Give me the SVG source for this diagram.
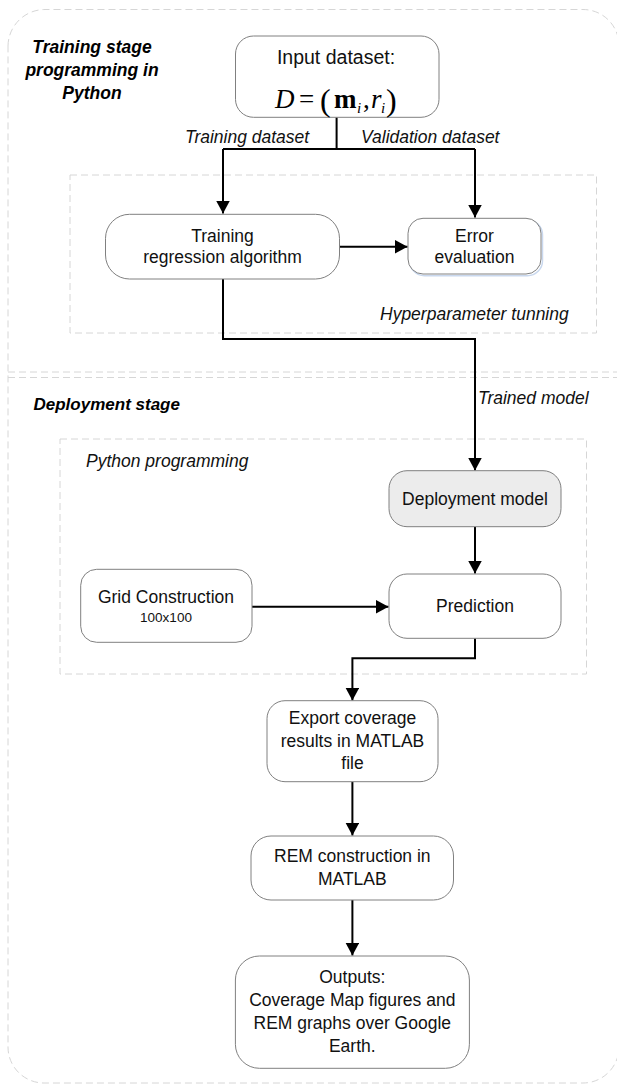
<svg xmlns="http://www.w3.org/2000/svg" width="617" height="1087" viewBox="0 0 617 1087">
<style>
.frame{fill:none;stroke:#d6d6d6;stroke-width:1;stroke-dasharray:7 4}
.box{fill:#ffffff;stroke:#808080;stroke-width:1}
.t{font-family:"Liberation Sans",Arial,sans-serif;font-size:17.5px;fill:#111;text-anchor:middle}
.lbl{font-family:"Liberation Sans",Arial,sans-serif;font-size:17.5px;font-style:italic;fill:#111}
.ttl{font-family:"Liberation Sans",Arial,sans-serif;font-size:17px;font-style:italic;font-weight:bold;fill:#000}
.m{font-family:"Liberation Serif","Times New Roman",serif;fill:#000}
.conn{fill:none;stroke:#000;stroke-width:2}
</style>
<defs>
<marker id="arr" markerUnits="userSpaceOnUse" markerWidth="14" markerHeight="14" viewBox="0 0 14 14" refX="13" refY="7" orient="auto">
<path d="M0,0 L13,7 L0,14 Z" fill="#000"/>
</marker>
</defs>
<rect width="617" height="1087" fill="#ffffff"/>
<g id="frames">
<path class="frame" d="M8,46 A37,37 0 0 1 45,9.5 L583,9.5 A36,36 0 0 1 619,45.5 L619,1047 A36,36 0 0 1 583,1083 L44,1083 A36,36 0 0 1 8,1047 Z"/>
<line class="frame" x1="8" y1="372" x2="617" y2="372"/>
<line class="frame" x1="8" y1="377.5" x2="617" y2="377.5"/>
<rect class="frame" x="70" y="175" width="526.5" height="158"/>
<rect class="frame" x="60" y="439" width="526.5" height="235"/>
</g>
<g id="titles">
<text class="ttl" text-anchor="middle" style="font-size:17.5px"><tspan x="92" y="53">Training stage</tspan><tspan x="92" y="76">programming in</tspan><tspan x="92" y="99">Python</tspan></text>
<text class="ttl" x="33.5" y="410">Deployment stage</text>
<text class="lbl" x="380" y="320">Hyperparameter tunning</text>
<text class="lbl" x="86" y="466.7">Python programming</text>
</g>
<g id="connectors">
<path class="conn" d="M336.6,117.3 L336.6,149 M223,149 L475,149"/>
<path class="conn" d="M223,149 L223,213.5" marker-end="url(#arr)"/>
<path class="conn" d="M475,149 L475,217.5" marker-end="url(#arr)"/>
<path class="conn" d="M339.4,246.7 L407.5,246.7" marker-end="url(#arr)"/>
<path class="conn" d="M223,279 L223,339 L475,339 L475,470.5" marker-end="url(#arr)"/>
<path class="conn" d="M475,526.7 L475,573.5" marker-end="url(#arr)"/>
<path class="conn" d="M252,606.7 L388.5,606.7" marker-end="url(#arr)"/>
<path class="conn" d="M475,638.3 L475,658.3 L352.4,658.3 L352.4,700.5" marker-end="url(#arr)"/>
<path class="conn" d="M352.4,781.7 L352.4,835.5" marker-end="url(#arr)"/>
<path class="conn" d="M352.4,900 L352.4,955.5" marker-end="url(#arr)"/>
<text class="lbl" x="185" y="143">Training dataset</text>
<text class="lbl" x="361" y="143">Validation dataset</text>
<text class="lbl" x="478" y="404">Trained model</text>
</g>
<g id="input-dataset">
<rect class="box" x="235.5" y="36" width="203.5" height="81.3" rx="18"/>
<text class="t" x="336" y="64" style="font-size:19.5px">Input dataset:</text>
<text class="m" x="275" y="108" font-size="27" font-style="italic">D</text>
<text class="m" x="299" y="108" font-size="27">=</text>
<text class="m" x="320" y="110.5" font-size="32">(</text>
<text class="m" x="334" y="108" font-size="27" font-weight="bold">m</text>
<text class="m" x="357" y="113" font-size="15" font-style="italic">i</text>
<text class="m" x="363" y="108" font-size="27">,</text>
<text class="m" x="371" y="108" font-size="27" font-style="italic">r</text>
<text class="m" x="381" y="113" font-size="15" font-style="italic">i</text>
<text class="m" x="386" y="110.5" font-size="32">)</text>
</g>
<g id="training-regression">
<rect class="box" x="105.5" y="214.3" width="234" height="64.7" rx="24"/>
<text class="t"><tspan x="222.5" y="241.7">Training</tspan><tspan x="222.5" y="263.3">regression algorithm</tspan></text>
</g>
<g id="error-evaluation">
<rect x="409.5" y="220" width="133" height="55.7" rx="15" fill="none" stroke="#c9d8ee" stroke-width="1.5"/>
<rect class="box" x="408" y="218.3" width="133" height="55.7" rx="15"/>
<text class="t"><tspan x="474.5" y="241.7">Error</tspan><tspan x="474.5" y="263.3">evaluation</tspan></text>
</g>
<g id="deployment-model">
<rect class="box" x="389" y="470.7" width="172" height="56" rx="18" style="fill:#ececec"/>
<text class="t" x="475" y="505">Deployment model</text>
</g>
<g id="grid-construction">
<rect class="box" x="80.7" y="569.3" width="171.3" height="73" rx="16"/>
<text class="t" x="166" y="602.7">Grid Construction</text>
<text class="t" x="166" y="621.7" style="font-size:13.5px">100x100</text>
</g>
<g id="prediction">
<rect class="box" x="389" y="574" width="172" height="64.3" rx="18"/>
<text class="t" x="475" y="611.7">Prediction</text>
</g>
<g id="export-coverage">
<rect class="box" x="267" y="700.7" width="171" height="81" rx="18"/>
<text class="t"><tspan x="352.5" y="724">Export coverage</tspan><tspan x="352.5" y="746.7">results in MATLAB</tspan><tspan x="352.5" y="769.3">file</tspan></text>
</g>
<g id="rem-construction">
<rect class="box" x="251" y="836" width="202.5" height="64" rx="20"/>
<text class="t"><tspan x="352.3" y="862.3">REM construction in</tspan><tspan x="352.3" y="885">MATLAB</tspan></text>
</g>
<g id="outputs">
<rect class="box" x="235.4" y="956" width="234" height="112.3" rx="24"/>
<text class="t"><tspan x="352.3" y="983.3">Outputs:</tspan><tspan x="352.3" y="1006">Coverage Map figures and</tspan><tspan x="352.3" y="1029">REM graphs over Google</tspan><tspan x="352.3" y="1051.7">Earth.</tspan></text>
</g>
</svg>
